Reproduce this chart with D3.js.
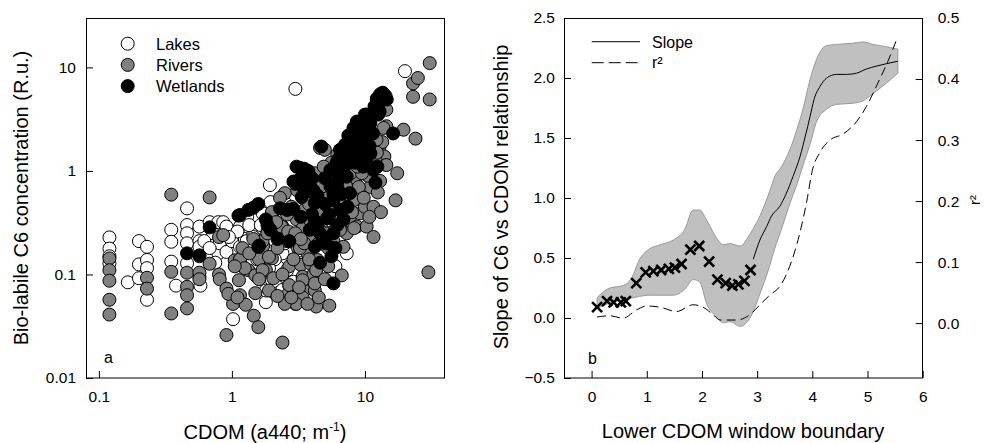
<!DOCTYPE html>
<html>
<head>
<meta charset="utf-8">
<script src="https://cdn.jsdelivr.net/npm/d3@7"></script>
<style>
  body { margin: 0; background: #fff; }
  text { font-family: "Liberation Sans", Arial, sans-serif; fill: #000; }
</style>
</head>
<body>
<svg id="chart" width="984" height="443"></svg>
<script>
// ---- panel a data: [CDOM a440, C6 concentration]
var lakes = [
  [0.12,0.228],[0.12,0.178],[0.12,0.15],[0.12,0.128],[0.165,0.084],[0.2,0.21],[0.2,0.125],[0.2,0.092],
  [0.23,0.185],[0.23,0.138],[0.23,0.115],[0.23,0.057],[0.35,0.27],[0.35,0.207],[0.35,0.133],[0.38,0.078],
  [0.46,0.435],[0.46,0.30],[0.46,0.25],[0.46,0.20],[0.46,0.128],[0.57,0.29],[0.57,0.21],[0.57,0.185],
  [0.57,0.15],[0.57,0.095],[0.58,0.078],[0.68,0.32],[0.72,0.25],[0.79,0.32],[0.79,0.16],[0.81,0.2],
  [0.86,0.32],[0.91,0.29],[0.91,0.165],[1.0,0.21],[1.02,0.037],[1.15,0.29],[1.15,0.185],[1.25,0.22],
  [1.29,0.21],[1.45,0.25],[1.45,0.23],[1.5,0.35],[1.3,0.36],[1.6,0.185],[1.7,0.39],[1.93,0.73],
  [1.95,0.5],[2.05,0.34],[1.8,0.054],[1.8,0.07],[2.0,0.088],[2.15,0.1],[2.2,0.076],[2.2,0.12],
  [2.3,0.068],[2.4,0.071],[2.4,0.16],[2.6,0.27],[2.7,0.078],[3.0,0.1],[3.3,0.14],[3.8,0.1],
  [4.6,0.15],[5.4,0.25],[5.8,0.52],[6.5,0.70],[7.3,0.16],[3.0,6.2],[20,9.2],[1.1,0.26],[1.35,0.3],
  [1.7,0.28],[2.0,0.22],[2.5,0.2],[2.9,0.085],[3.5,0.075],[4.0,0.2],[1.2,0.12],[1.55,0.14],[4.8,0.35],[6.0,0.12],
  [1.65,0.3],[1.85,0.26],[2.35,0.23],[2.8,0.3],[3.2,0.17],[1.4,0.17],[2.1,0.14],[2.6,0.11],[3.6,0.12],
  [1.9,0.115],[0.95,0.23],[0.62,0.21],[0.68,0.18],[0.75,0.13],[4.3,0.26],[5.0,0.5],[3.4,0.55],[2.55,0.48],
  [6.7,0.36],[7.5,0.3]
];
var rivers = [
  [0.12,0.143],[0.12,0.11],[0.12,0.087],[0.12,0.057],[0.12,0.041],[0.23,0.093],[0.23,0.073],[0.35,0.59],
  [0.35,0.106],[0.35,0.042],[0.46,0.104],[0.46,0.076],[0.46,0.063],[0.46,0.047],[0.57,0.104],[0.57,0.09],
  [0.68,0.555],[0.68,0.127],[0.8,0.23],[0.8,0.1],[0.81,0.09],[0.91,0.073],[0.91,0.026],[1.02,0.052],
  [1.05,0.137],[1.13,0.088],[1.15,0.063],[1.27,0.051],[1.15,0.14],[1.33,0.11],[1.46,0.04],[1.58,0.031],
  [1.5,0.098],[1.5,0.066],[1.6,0.14],[1.72,0.19],[1.8,0.11],[2.0,0.143],[2.1,0.25],[2.4,0.022],
  [2.5,0.61],[2.4,0.29],[2.6,0.063],[2.6,0.21],[2.7,0.12],[3.0,0.052],[3.1,0.185],[3.3,0.124],
  [3.4,0.095],[3.5,0.07],[3.7,0.16],[3.9,0.127],[4.1,0.1],[4.2,0.07],[4.3,0.049],[4.4,0.138],
  [4.6,0.36],[4.8,0.27],[5.0,0.42],[5.3,0.12],[5.4,0.05],[5.8,0.21],[6.1,0.29],[6.7,0.098],
  [6.9,0.185],[7.3,0.25],[7.7,0.33],[8.2,0.52],[8.7,0.29],[9.2,0.39],[9.4,0.65],[10,0.45],
  [10.3,0.29],[11,0.70],[11.6,0.23],[11.6,0.45],[13.2,0.4],[12.9,1.72],[14,1.38],[14.5,3.9],
  [14.5,1.14],[17,0.52],[17.5,0.95],[14.5,2.7],[19.5,2.5],[23,7.0],[25,7.9],[23,5.2],
  [30.7,11],[30.7,4.9],[24,2.05],[30,0.105],[4.6,1.67],[5.0,1.6],[3.6,0.55],
  [2.36,0.29],[0.86,0.24],[1.15,0.14],[0.94,0.065],[1.1,0.06],[3.25,0.18],[3.8,0.14],[4.3,0.11],
  [3.4,0.06],[3.05,0.052],[2.5,0.052],[2.05,0.092],[1.7,0.11],[1.25,0.115],[1.05,0.12],[1.9,0.148],
  [2.2,0.18],[1.7,0.21],[1.45,0.22],[2.65,0.26],[3.07,0.34],[3.4,0.28],[4.0,0.29],[4.6,0.39],
  [6.1,0.42],[6.5,0.27],[5.3,0.18],[4.2,0.082],[3.4,0.088],[2.7,0.079],[2.8,0.45],[3.5,0.42],
  [4.4,0.52],[5.2,0.6],[5.6,0.9],[6.8,0.75],[7.5,1.1],[8.5,0.85],[9.5,1.2],[10.5,0.9],
  [12,1.3],[13,0.8],[13.5,1.9],[6.2,1.45],[5.6,1.2],[4.2,0.8],[3.6,0.9],[8,1.6],
  [9,2.2],[10.8,2.8],[12.2,2.0],[2.3,0.55],[2.0,0.4],[7.0,0.55],[8.0,0.4],[9.0,0.7],
  [11.2,1.6],[6.0,0.33],[5.0,0.25],[4.0,0.22],[3.0,0.25],[3.5,0.2],[4.5,0.2],
  [1.2,0.18],[1.35,0.16],[1.6,0.09],[1.9,0.07],[2.2,0.062],[2.8,0.06],[3.2,0.075],[3.7,0.052],
  [4.5,0.06],[5.0,0.09],[2.4,0.1],[2.9,0.14],[3.3,0.22],[3.9,0.33],[4.9,0.55],[5.6,0.36],
  [6.4,0.55],[7.2,0.72],[8.3,0.28],[9.8,0.55],[10.8,0.36],[11,1.1],[12.5,0.62],[6.0,0.95],
  [7.8,0.95],[4.7,0.7],[5.3,0.45],[2.6,0.38],[3.8,0.48],[1.85,0.25],[2.15,0.32],[6.8,1.25],
  [9.5,0.95],[8.8,1.1],[4.2,0.95],[4.9,1.1],[12.3,1.5],[13.8,2.6],[3.1,0.65]
];
var wetlands = [
  [0.46,0.16],[0.57,0.153],[0.68,0.285],[1.12,0.37],[1.15,0.375],[1.33,0.42],[1.45,0.44],[1.58,0.48],
  [1.6,0.19],[1.58,0.185],[1.8,0.34],[1.85,0.3],[2.2,0.22],[2.3,0.435],[2.7,0.21],[2.9,0.43],
  [2.9,0.79],[3.06,1.1],[3.25,1.07],[3.4,0.95],[3.75,1.0],[3.35,0.56],[3.7,0.7],[4.1,0.65],
  [4.2,0.49],[3.85,0.27],[4.2,0.185],[4.6,0.13],[4.7,1.72],[5.0,0.85],[5.5,0.71],[5.8,0.52],
  [6.1,1.19],[6.5,1.6],[6.5,0.42],[6.9,0.34],[5.8,0.25],[6.0,0.18],[5.8,0.082],[7.3,0.88],
  [7.7,0.61],[8.0,1.99],[8.2,1.48],[8.7,2.9],[9.2,2.3],[9.7,1.1],[10,3.5],[10.3,2.6],
  [11,1.48],[11.6,1.02],[12,0.77],[12.3,4.9],[12.9,3.75],[13.6,5.7],[14.6,4.9],[16.3,2.3],
  [7.7,1.28],[4.6,0.25],[5.1,0.2],[4.2,0.33],[6.3,0.82],[5.5,1.02],[7.1,1.37],[8.4,1.85],
  [11,2.9],[13,5.5],[12.3,5.0],[12.6,3.5],[10.3,3.5],[8.7,3.0],[8.2,2.6],[7.1,1.8],
  [10.5,2.2],[9.0,1.4],[5.8,0.6],[7.4,0.45],[4.0,0.38],[3.2,0.82],[3.5,0.62],[4.4,0.3],
  [5.2,0.35],[6.7,0.6],[9.5,1.7],[10.2,1.3],[11.5,2.3],
  [3.0,0.75],[3.5,1.05],[4.0,0.85],[4.4,0.58],[5.0,0.48],[5.4,0.38],[6.2,0.3],[6.6,0.95],
  [7.0,1.1],[7.8,1.6],[9.3,2.0],[9.8,2.7],[10.8,3.3],[11.8,4.2],[12.8,4.5],[14.3,5.3],
  [6.2,0.7],[4.8,0.22],[3.3,0.36],[2.6,0.42],[1.95,0.27],[5.6,0.15],[8.5,1.2],[10.8,1.75],
  [12.4,1.1],[7.5,2.2],[9.0,2.5],[6.3,1.3]
];
var groups = ["Lakes", "Rivers", "Wetlands"];
var xTicksA = [0.1, 1, 10];
var yTicksA = [0.01, 0.1, 1, 10];

// ---- panel b data
var crossX = [0.10,0.28,0.40,0.53,0.62,0.81,0.98,1.12,1.26,1.40,1.51,1.63,1.79,1.95,2.13,2.28,2.43,2.55,2.66,2.77,2.88];
var crossY = [0.09,0.14,0.13,0.13,0.14,0.29,0.38,0.39,0.40,0.41,0.42,0.45,0.57,0.60,0.47,0.32,0.29,0.27,0.28,0.31,0.40];
var slopeX = [2.93,3.05,3.17,3.26,3.41,3.53,3.65,3.78,3.87,3.96,4.03,4.14,4.26,4.44,4.62,4.80,4.98,5.17,5.35,5.55];
var slopeY = [0.49,0.65,0.76,0.85,0.93,1.04,1.18,1.35,1.51,1.68,1.82,1.93,2.0,2.03,2.03,2.04,2.075,2.10,2.12,2.14];
var bandX  = [0.10,0.33,0.57,0.72,0.87,1.03,1.24,1.48,1.69,1.84,1.96,2.08,2.26,2.39,2.51,2.69,2.87,3.05,3.23,3.32,3.44,3.59,3.74,3.83,3.96,4.08,4.26,4.44,4.74,4.92,5.10,5.35,5.55];
var bandHi = [0.17,0.25,0.27,0.33,0.49,0.57,0.61,0.65,0.74,0.90,0.90,0.82,0.67,0.61,0.62,0.60,0.70,0.85,1.06,1.18,1.26,1.40,1.60,1.74,1.99,2.16,2.27,2.28,2.29,2.30,2.28,2.26,2.24];
var bandLo = [0.08,0.125,0.15,0.165,0.18,0.19,0.19,0.19,0.24,0.32,0.30,0.125,0.01,-0.04,-0.03,-0.07,0.0,0.20,0.44,0.58,0.74,0.95,1.14,1.27,1.45,1.64,1.74,1.78,1.79,1.81,1.87,1.96,2.04];
var r2X = [0.10,0.33,0.57,0.82,1.0,1.24,1.54,1.84,2.02,2.20,2.33,2.63,2.87,3.05,3.23,3.41,3.59,3.78,3.90,4.0,4.14,4.32,4.56,4.80,4.98,5.17,5.35,5.53];
var r2Y = [0.010,0.012,0.008,0.022,0.028,0.026,0.019,0.030,0.026,0.014,0.005,0.005,0.014,0.030,0.046,0.060,0.093,0.15,0.20,0.25,0.28,0.30,0.31,0.33,0.355,0.39,0.425,0.465];
var xTicksB = [0, 1, 2, 3, 4, 5, 6];
var yTicksB = [-0.5, 0, 0.5, 1, 1.5, 2, 2.5];
var y2TicksB = [0, 0.1, 0.2, 0.3, 0.4, 0.5];

var svg = d3.select("#chart");
var tickFont = "15.5px";
var titleFont = "20px";

// ---------- panel a ----------
var xA = d3.scaleLog().domain([0.08, 40]).range([86, 445]);
var yA = d3.scaleLog().domain([0.01, 30]).range([378, 18]);
var fmtA = function(d) { return String(d); };

var gA = svg.append("g");
var fill = {Lakes: "#fff", Rivers: "#808080", Wetlands: "#000"};
var sets = {Lakes: lakes, Rivers: rivers, Wetlands: wetlands};

groups.forEach(function(g) {
  gA.append("g").selectAll("circle")
    .data(sets[g])
    .enter().append("circle")
    .attr("cx", function(d) { return xA(d[0]); })
    .attr("cy", function(d) { return yA(d[1]); })
    .attr("r", 6.5)
    .style("fill", fill[g])
    .style("stroke", "#000")
    .style("stroke-width", 1);
});

gA.append("g").attr("transform", "translate(0,378)")
  .call(d3.axisBottom(xA).tickValues(xTicksA).tickFormat(fmtA).tickSize(-7).tickPadding(12.5));
gA.append("g").attr("transform", "translate(86,0)")
  .call(d3.axisLeft(yA).tickValues(yTicksA).tickFormat(fmtA).tickSize(-7).tickPadding(10));

gA.append("rect").attr("x", 86.5).attr("y", 18.5).attr("width", 358).attr("height", 359.5)
  .style("fill", "none").style("stroke", "#000").style("stroke-width", 1);

// legend
groups.forEach(function(g, i) {
  var ly = 43.7 + i * 21.2;
  gA.append("circle").attr("cx", 127.7).attr("cy", ly).attr("r", 6.5)
    .style("fill", fill[g]).style("stroke", "#000");
  gA.append("text").attr("x", 156).attr("y", ly + 6).style("font-size", "16.5px").text(g);
});

gA.append("text").attr("x", 104).attr("y", 363).style("font-size", "16px").text("a");

var xtA = gA.append("text").attr("x", 265).attr("y", 439).attr("text-anchor", "middle").style("font-size", titleFont);
xtA.append("tspan").text("CDOM (a440; m");
xtA.append("tspan").attr("dy", -8).style("font-size", "12px").text("-1");
xtA.append("tspan").attr("dy", 8).text(")");

gA.append("text").attr("transform", "translate(28,198) rotate(-90)")
  .attr("text-anchor", "middle").style("font-size", titleFont)
  .text("Bio-labile C6 concentration (R.u.)");

// ---------- panel b ----------
var xB = d3.scaleLinear().domain([-0.5, 6]).range([564, 922.7]);
var yB = d3.scaleLinear().domain([-0.5, 2.5]).range([378, 18]);
var y2B = d3.scaleLinear().domain([-0.09, 0.5]).range([378, 18]);

var gB = svg.append("g");

var band = bandX.map(function(x, i) { return {x: x, lo: bandLo[i], hi: bandHi[i]}; });
gB.append("path").datum(band)
  .attr("d", d3.area().x(function(d) { return xB(d.x); })
    .y0(function(d) { return yB(d.lo); })
    .y1(function(d) { return yB(d.hi); })
    .curve(d3.curveMonotoneX))
  .style("fill", "#c0c0c0").style("stroke", "#9a9a9a").style("stroke-width", 1);

var slope = slopeX.map(function(x, i) { return [x, slopeY[i]]; });
gB.append("path").datum(slope)
  .attr("d", d3.line().x(function(d) { return xB(d[0]); }).y(function(d) { return yB(d[1]); }).curve(d3.curveMonotoneX))
  .style("fill", "none").style("stroke", "#000").style("stroke-width", 1);

var r2 = r2X.map(function(x, i) { return [x, r2Y[i]]; });
gB.append("path").datum(r2)
  .attr("d", d3.line().x(function(d) { return xB(d[0]); }).y(function(d) { return y2B(d[1]); }).curve(d3.curveMonotoneX))
  .style("fill", "none").style("stroke", "#000").style("stroke-width", 1)
  .style("stroke-dasharray", "9,5");

var crosses = crossX.map(function(x, i) { return [x, crossY[i]]; });
var cg = gB.append("g").selectAll("g").data(crosses).enter().append("g")
  .attr("transform", function(d) { return "translate(" + xB(d[0]) + "," + yB(d[1]) + ")"; });
cg.append("line").attr("x1", -5).attr("y1", -5).attr("x2", 5).attr("y2", 5);
cg.append("line").attr("x1", -5).attr("y1", 5).attr("x2", 5).attr("y2", -5);
cg.selectAll("line").style("stroke", "#000").style("stroke-width", 2.6);

gB.append("g").attr("transform", "translate(0,378)")
  .call(d3.axisBottom(xB).tickValues(xTicksB).tickFormat(d3.format("d")).tickSize(-7).tickPadding(12.5));
gB.append("g").attr("transform", "translate(564,0)")
  .call(d3.axisLeft(yB).tickValues(yTicksB).tickFormat(d3.format(".1f")).tickSize(-7).tickPadding(9));
gB.append("g").attr("transform", "translate(922.7,0)")
  .call(d3.axisRight(y2B).tickValues(y2TicksB).tickFormat(d3.format(".1f")).tickSize(-7).tickPadding(15));

gB.append("rect").attr("x", 564.5).attr("y", 18.5).attr("width", 358).attr("height", 359.5)
  .style("fill", "none").style("stroke", "#000").style("stroke-width", 1);

// legend b
gB.append("line").attr("x1", 591.7).attr("x2", 640).attr("y1", 41.7).attr("y2", 41.7)
  .style("stroke", "#000").style("stroke-width", 1);
gB.append("text").attr("x", 652).attr("y", 47.5).style("font-size", "16px").text("Slope");
gB.append("line").attr("x1", 591.7).attr("x2", 640).attr("y1", 62.7).attr("y2", 62.7)
  .style("stroke", "#000").style("stroke-width", 1).style("stroke-dasharray", "12,5");
gB.append("text").attr("x", 652).attr("y", 68).style("font-size", "16px").text("r\u00b2");

gB.append("text").attr("x", 588).attr("y", 364).style("font-size", "16px").text("b");

gB.append("text").attr("x", 743).attr("y", 438).attr("text-anchor", "middle")
  .style("font-size", titleFont).text("Lower CDOM window boundary");
gB.append("text").attr("transform", "translate(508,197) rotate(-90)")
  .attr("text-anchor", "middle").style("font-size", titleFont)
  .text("Slope of C6 vs CDOM relationship");
gB.append("text").attr("transform", "translate(980,200) rotate(-90)")
  .attr("text-anchor", "middle").style("font-size", "15px").text("r\u00b2");

// shared axis styling
svg.selectAll(".domain").remove();
svg.selectAll(".tick line").style("stroke", "#000");
svg.selectAll(".tick text").style("font-size", tickFont)
  .style("font-family", "'Liberation Sans', Arial, sans-serif").style("fill", "#000");
</script>
</body>
</html>
